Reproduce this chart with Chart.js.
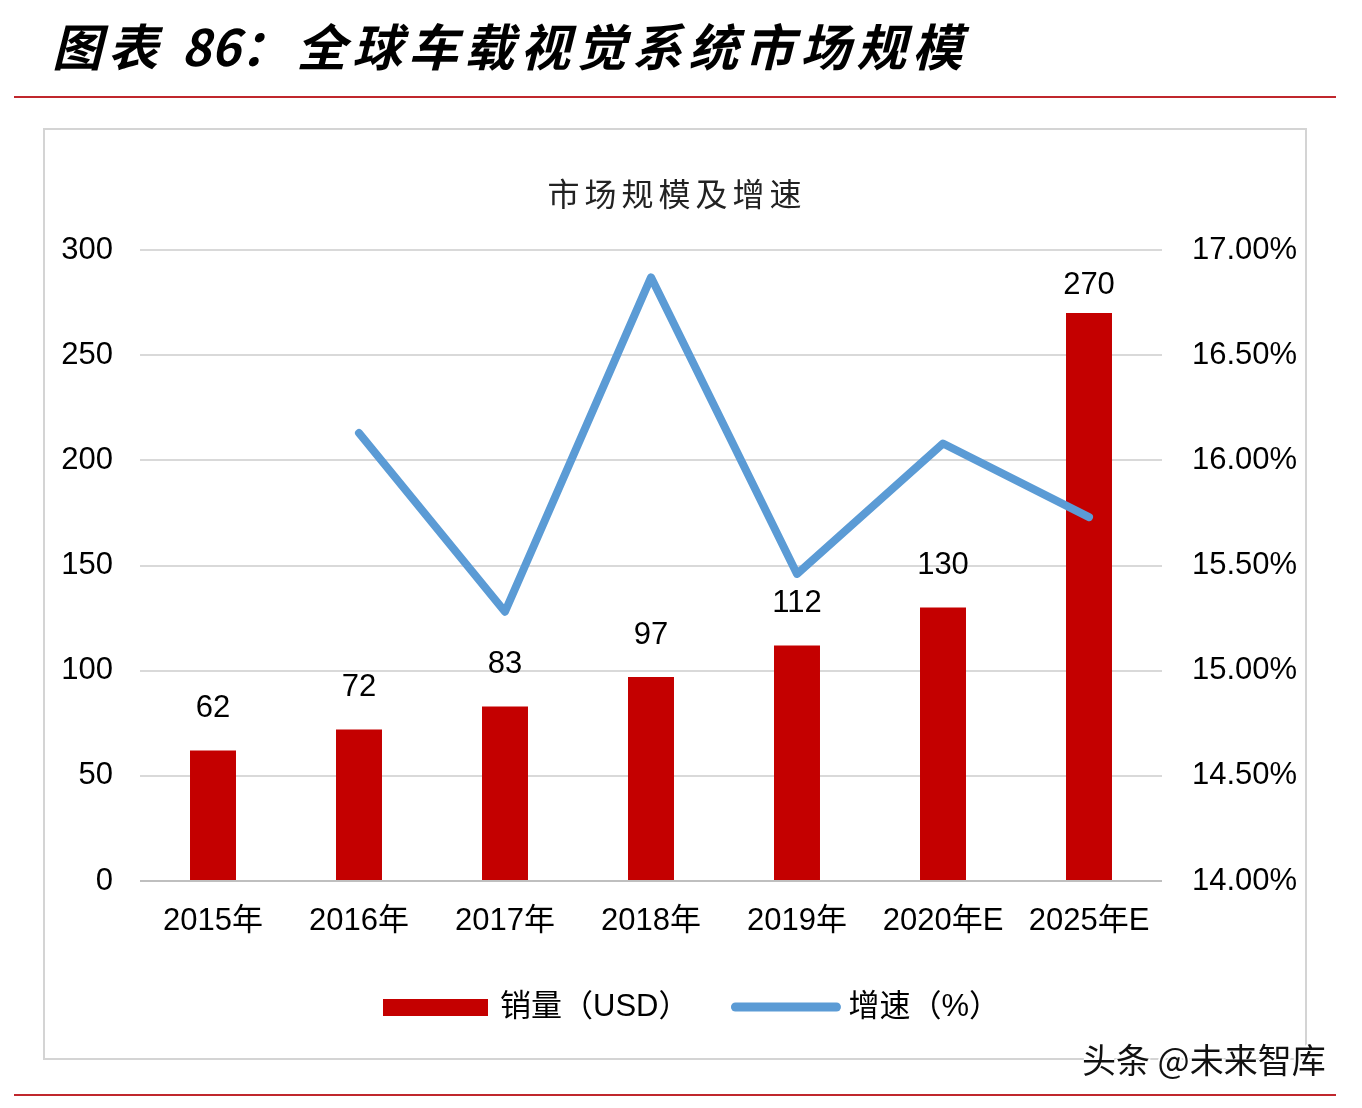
<!DOCTYPE html>
<html lang="zh">
<head>
    <meta charset="UTF-8" />
    <title>全球车载视觉系统市场规模</title>
    <script src="https://cdn.jsdelivr.net/npm/chart.js"></script>
    <style>
        body { margin: 0; background: #fff; width: 1362px; height: 1108px; position: relative; overflow: hidden; }
        .title { position: absolute; left: 52px; top: 8px; font: italic 700 50px "Noto Sans CJK SC", sans-serif; letter-spacing: 6px; white-space: nowrap; color: #000; }
        .title .num { letter-spacing: 0; }
        .rule { position: absolute; left: 14px; width: 1322px; height: 2px; background: #c0272d; }
        .box { position: absolute; left: 43px; top: 128px; width: 1260px; height: 928px; border: 2px solid #d4d4d4; }
        .box canvas { position: absolute; left: 0; top: 0; }
        .mark { position: absolute; left: 1082px; top: 1034px; font: 400 34px "Noto Sans CJK SC", sans-serif; color: #111;
                text-shadow: -2px 0 #fff, 2px 0 #fff, 0 -2px #fff, 0 2px #fff, 2px 2px #fff; white-space: nowrap; }
    </style>
</head>
<body>
    <div class="title">图表 <span class="num">86</span>：全球车载视觉系统市场规模</div>
    <div class="rule" style="top:96px"></div>
    <div class="box"><canvas id="chart" width="1260" height="928"></canvas></div>
    <div class="rule" style="top:1094px"></div>
    <div class="mark">头条 @未来智库</div>

    <script>
        const years = ["2015年", "2016年", "2017年", "2018年", "2019年", "2020年E", "2025年E"];
        const sales = [62, 72, 83, 97, 112, 130, 270];
        const growth = [null, 16.13, 15.28, 16.87, 15.46, 16.08, 15.73];

        const RED = "#c40000";
        const BLUE = "#5b9bd5";
        const FONT = "'Liberation Sans', 'Noto Sans CJK SC', sans-serif";
        const SIZE = 31;

        // chart title, spaced out a little like the original
        const chartTitle = {
            id: "chartTitle",
            afterDraw(chart) {
                const ctx = chart.ctx;
                ctx.save();
                ctx.font = "400 32px 'Noto Sans CJK SC', sans-serif";
                ctx.letterSpacing = "5px";
                ctx.fillStyle = "#222";
                ctx.textAlign = "center";
                ctx.textBaseline = "middle";
                ctx.fillText("市场规模及增速", chart.width / 2 + 2, 64);
                ctx.restore();
            }
        };

        // value labels above bars
        const barLabels = {
            id: "barLabels",
            afterDatasetsDraw(chart) {
                const ctx = chart.ctx;
                const meta = chart.getDatasetMeta(0);
                ctx.save();
                ctx.font = SIZE + "px " + FONT;
                ctx.fillStyle = "#000";
                ctx.textAlign = "center";
                ctx.textBaseline = "middle";
                meta.data.forEach((el, i) => {
                    const y = Math.max(el.y - 42, chart.chartArea.top + 35);
                    ctx.fillText(sales[i], el.x, y);
                });
                ctx.restore();
            }
        };

        // legend at the bottom
        const bottomLegend = {
            id: "bottomLegend",
            afterDraw(chart) {
                const ctx = chart.ctx;
                const ds = chart.data.datasets;
                const y = 877;
                ctx.save();
                ctx.font = SIZE + "px " + FONT;
                ctx.textBaseline = "middle";
                const symW = 105, gapSym = 12, gapItem = 42;
                const widths = ds.map(d => symW + gapSym + ctx.measureText(d.label).width);
                let x = 338;
                ds.forEach((d, i) => {
                    if (d.type === "bar") {
                        ctx.fillStyle = d.backgroundColor;
                        ctx.fillRect(x, y - 8, symW, 17);
                    } else {
                        ctx.strokeStyle = d.borderColor;
                        ctx.lineWidth = 9;
                        ctx.lineCap = "round";
                        ctx.beginPath();
                        ctx.moveTo(x + 4, y);
                        ctx.lineTo(x + symW, y);
                        ctx.stroke();
                    }
                    ctx.fillStyle = "#000";
                    ctx.fillText(d.label, x + symW + gapSym, y);
                    x += widths[i] + gapItem;
                });
                ctx.restore();
            }
        };

        new Chart(document.getElementById("chart"), {
            data: {
                labels: years,
                datasets: [
                    {
                        type: "bar",
                        label: "销量（USD）",
                        data: sales,
                        backgroundColor: RED,
                        barPercentage: 0.315,
                        categoryPercentage: 1,
                        yAxisID: "y",
                        order: 1
                    },
                    {
                        type: "line",
                        label: "增速（%）",
                        data: growth,
                        borderColor: BLUE,
                        backgroundColor: BLUE,
                        borderWidth: 8,
                        borderCapStyle: "round",
                        borderJoinStyle: "round",
                        pointRadius: 0,
                        tension: 0,
                        yAxisID: "y1",
                        order: 0
                    }
                ]
            },
            options: {
                responsive: false,
                animation: false,
                layout: { padding: { top: 120 } },
                plugins: {
                    legend: { display: false },
                    tooltip: { enabled: false },
                    title: { display: false }
                },
                scales: {
                    x: {
                        grid: { display: false },
                        border: { display: false },
                        ticks: { color: "#000", font: { family: FONT, size: SIZE }, padding: 14, maxRotation: 0 },
                        afterFit(s) { s.height = 177; }
                    },
                    y: {
                        position: "left",
                        min: 0, max: 300,
                        ticks: { stepSize: 50, color: "#000", font: { family: FONT, size: SIZE }, padding: 27 },
                        grid: {
                            drawTicks: false,
                            lineWidth: 2,
                            color: c => c.index === 0 ? "#bfbfbf" : "#d9d9d9"
                        },
                        border: { display: false },
                        afterFit(s) { s.width = 95; }
                    },
                    y1: {
                        position: "right",
                        min: 14, max: 17,
                        ticks: {
                            stepSize: 0.5, color: "#000", font: { family: FONT, size: SIZE }, padding: 22,
                            callback: v => v.toFixed(2) + "%"
                        },
                        grid: { display: false },
                        border: { display: false },
                        afterFit(s) { s.width = 143; }
                    }
                }
            },
            plugins: [chartTitle, barLabels, bottomLegend]
        });
    </script>
</body>
</html>
